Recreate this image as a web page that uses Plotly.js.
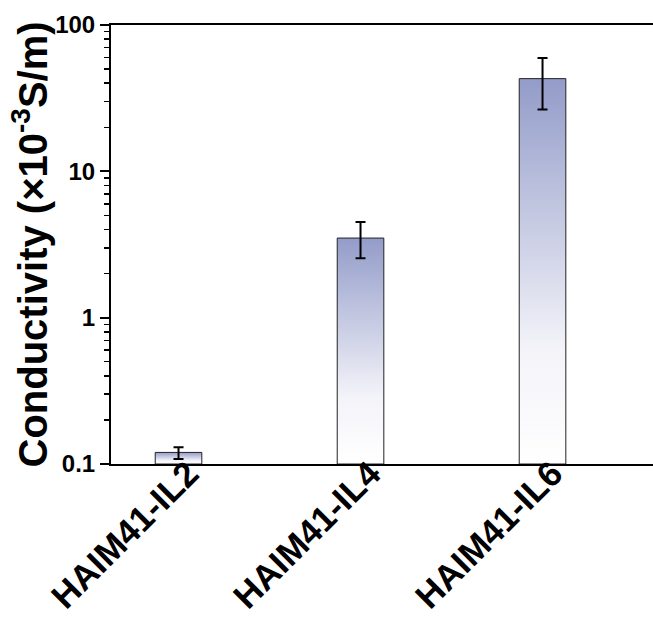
<!DOCTYPE html>
<html>
<head>
<meta charset="utf-8">
<script src="https://cdn.plot.ly/plotly-3.0.1.min.js"></script>
<style>html,body{margin:0;padding:0;background:#fff;}#chart{width:653px;height:618px;}</style>
</head>
<body>
<div id="chart"></div>
<script>
// ---- data ----
var categories = ['HAIM41-IL2', 'HAIM41-IL4', 'HAIM41-IL6'];
var conductivity = [0.12, 3.5, 43];
var errPlus = [0.01, 1.0, 16.5];
var errMinus = [0.012, 0.95, 16.5];
var yTickVals = [0.1, 1, 10, 100];
var yTickText = ['0.1', '1', '10', '100'];
var yMinorVals = [0.2,0.3,0.4,0.5,0.6,0.7,0.8,0.9,2,3,4,5,6,7,8,9,20,30,40,50,60,70,80,90];
var yTitle = 'Conductivity (×10<sup>-3</sup>S/m)';
var baseValue = 0.1;

// ---- style ----
var halfWidth = 0.128;
var gradScale = [[0, '#ffffff'], [0.3, '#f3f3f9'], [1, '#939cc9']];
var FONT = 'Liberation Sans, Arial, sans-serif';

var xIdx = categories.map(function (c, i) { return i; });
var traces = [];
categories.forEach(function (c, i) {
  traces.push({
    type: 'scatter',
    x: [i - halfWidth, i - halfWidth, i + halfWidth, i + halfWidth, i - halfWidth],
    y: [baseValue, conductivity[i], conductivity[i], baseValue, baseValue],
    mode: 'lines',
    fill: 'toself',
    fillgradient: { type: 'vertical', colorscale: gradScale },
    line: { color: '#222222', width: 1 },
    hoverinfo: 'skip',
    showlegend: false
  });
});
traces.push({
  type: 'scatter',
  x: xIdx,
  y: conductivity,
  mode: 'markers',
  marker: { size: 1, color: 'rgba(0,0,0,0)' },
  error_y: { type: 'data', array: errPlus, arrayminus: errMinus, symmetric: false,
             color: '#000000', thickness: 2, width: 5 },
  showlegend: false
});

// category labels, rotated
var annotations = categories.map(function (c, i) {
  return {
    text: c, x: i, xref: 'x', y: 0, yref: 'paper',
    xanchor: 'right', yanchor: 'top', textangle: -45,
    xshift: 30, yshift: 14, showarrow: false,
    font: { family: FONT, size: 35, color: '#000', weight: 'bold' }
  };
});
annotations.push({
  text: yTitle, x: 0, xref: 'paper', y: 0.5, yref: 'paper',
  xanchor: 'center', yanchor: 'middle', textangle: -90, xshift: -81,
  showarrow: false,
  font: { family: FONT, size: 40, color: '#000', weight: 'bold' }
});

var layout = {
  width: 653, height: 618,
  margin: { l: 111, r: 0, t: 25, b: 154 },
  paper_bgcolor: '#ffffff', plot_bgcolor: '#ffffff',
  showlegend: false,
  font: { family: FONT, color: '#000000' },
  annotations: annotations,
  xaxis: {
    type: 'linear',
    range: [-0.371, 2.607],
    tickmode: 'array', tickvals: xIdx,
    showticklabels: false,
    ticks: '',
    showline: true, linewidth: 2, linecolor: '#000', mirror: true,
    showgrid: false, zeroline: false
  },
  yaxis: {
    type: 'log',
    range: [-1, 2],
    tickmode: 'array', tickvals: yTickVals, ticktext: yTickText,
    ticks: 'outside', ticklen: 9, tickwidth: 2, tickcolor: '#000',
    minor: { tickmode: 'array', tickvals: yMinorVals, ticks: 'outside', ticklen: 5, tickwidth: 1.5, tickcolor: '#000', showgrid: false },
    tickfont: { family: FONT, size: 24, color: '#000', weight: 'bold' },
    showline: true, linewidth: 2, linecolor: '#000', mirror: false,
    showgrid: false, zeroline: false
  }
};

Plotly.newPlot('chart', traces, layout, { staticPlot: true, displayModeBar: false });
</script>
</body>
</html>
